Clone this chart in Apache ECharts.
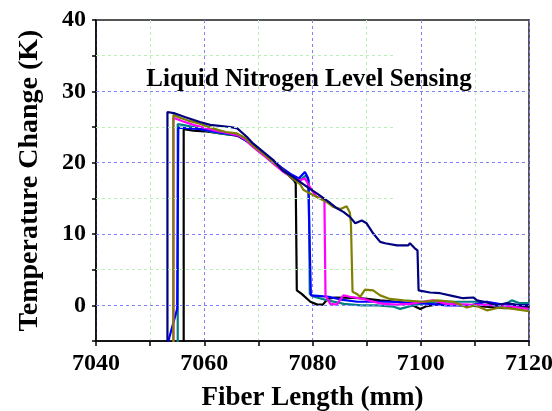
<!DOCTYPE html>
<html>
<head>
<meta charset="utf-8">
<script src="https://cdn.jsdelivr.net/npm/echarts@6/dist/echarts.min.js"></script>
<style>html,body{margin:0;padding:0;background:#fff}#c{width:552px;height:411px}</style>
</head>
<body>
<div id="c"></div>
<script>
// ---- data (x in mm, y in K) ----
const xTicks = [7040, 7060, 7080, 7100, 7120];
const yTicks = [0, 10, 20, 30, 40];
const majorYGrid = [0, 10, 20, 30];
const minorYGrid = [5, 15, 25, 35];
const minorYGridEnd = 7095;

const blackCurve = [[7056.2,-8],[7056.2,24.7],[7058,24.5],[7060,24.4],[7062,24.2],[7064,24.0],[7066,23.8],[7068,23.0],[7069.8,21.9],[7071.5,20.8],[7073.3,19.7],[7075.2,18.5],[7076.6,17.5],[7076.9,17.1],[7077.1,2.1],[7078.0,1.6],[7079.6,0.5],[7080.9,0.1],[7081.9,0.1],[7082.8,0.9],[7084.2,1.1],[7088.8,1.0],[7092.5,0.7],[7095.6,0.5],[7098.0,0.2],[7099.9,-0.5],[7101.1,-0.1],[7103.6,0.2],[7108,0.0],[7112,-0.2],[7115.5,-0.4],[7120,-0.2]];
const tealCurve = [[7055.1,-8],[7055.1,25.4],[7056,25.3],[7058,25.0],[7060,24.6],[7062,24.2],[7064,24.0],[7066,23.9],[7067.5,23.3],[7069,22.3],[7071,21.1],[7072.7,20.0],[7074.8,18.8],[7076.5,18.0],[7077.7,17.6],[7078.8,18.2],[7079.3,17.5],[7079.5,1.6],[7080.3,1.2],[7082.8,0.7],[7085.8,0.2],[7089,0.0],[7092,0.0],[7095,-0.2],[7096.2,-0.5],[7098.6,0.0],[7099.9,0.2],[7103,0.5],[7106,0.5],[7112.2,0.5],[7114.6,-0.3],[7116.8,0.7],[7118.3,0.3],[7120,0.3]];
const blueCurve = [[7053.0,-6],[7055.0,-0.5],[7055.2,24.9],[7057.4,24.8],[7059.2,24.7],[7061,24.5],[7063,24.2],[7065,24.0],[7066.5,23.7],[7068.2,22.8],[7070.3,21.6],[7072.3,20.5],[7074.3,19.3],[7076.2,18.3],[7077.5,17.8],[7078.6,18.7],[7079.2,17.8],[7079.7,1.4],[7081.5,1.3],[7083,1.2],[7085.3,0.8],[7088.3,0.5],[7094.3,0.5],[7099.9,0.3],[7104.8,0.0],[7109.1,0.0],[7112.2,0.5],[7115.2,0.1],[7120,0.0]];
const magentaCurve = [[7054.3,-8],[7054.3,26.3],[7056,25.8],[7058,25.3],[7060,24.9],[7062,24.5],[7064,24.2],[7066,23.9],[7067.5,23.3],[7069,22.2],[7071,21.0],[7072.7,19.9],[7074.8,18.6],[7076.5,17.8],[7077.7,17.5],[7078.6,17.8],[7079.9,16.1],[7080.8,15.2],[7081.7,15.0],[7082.2,14.9],[7082.4,1.4],[7083.3,0.2],[7084.5,0.1],[7085.7,1.4],[7086.9,1.2],[7089.4,0.9],[7091.2,0.5],[7093.1,0.2],[7095.6,0.1],[7098,0.2],[7101.1,0.6],[7102.3,0.7],[7104.8,0.2],[7109.1,0.1],[7115.2,0.0],[7119.9,-0.5]];
const oliveCurve = [[7054.3,-8],[7054.3,26.7],[7055.5,26.3],[7057,25.9],[7059,25.5],[7060.5,25.1],[7062.5,24.6],[7064,24.3],[7066,24.1],[7067.5,23.5],[7069,22.4],[7071,21.2],[7072.5,20.2],[7074.5,19.0],[7076,18.0],[7077.7,17.0],[7078.3,16.2],[7079.5,15.7],[7080.8,15.2],[7082.6,14.5],[7083.8,13.8],[7085.2,13.5],[7086.3,13.9],[7086.9,13.0],[7087.1,11.5],[7087.4,1.9],[7088.2,1.6],[7088.8,1.2],[7089.7,2.2],[7091.2,2.1],[7092.5,1.4],[7094.3,0.9],[7096.8,0.7],[7100.5,0.5],[7103,0.7],[7106,0.5],[7108.5,-0.3],[7110,0.0],[7112.2,-0.7],[7114.6,-0.3],[7117.1,-0.5],[7120,-0.8]];
const navyCurve = [[7053.2,-8],[7053.2,27.1],[7054.6,26.9],[7056.4,26.4],[7059.2,25.7],[7061.1,25.3],[7064.8,25.0],[7066.1,24.8],[7067.9,23.6],[7069.0,22.7],[7070.9,21.5],[7072.7,20.4],[7074.5,18.9],[7076.4,18.0],[7077.7,17.3],[7079.0,16.6],[7081.0,15.6],[7083.0,14.5],[7084.5,13.6],[7085.7,13.1],[7086.9,12.4],[7087.9,11.5],[7089.1,11.9],[7090.0,11.5],[7091.2,10.1],[7092.5,8.9],[7093.4,8.7],[7095.6,8.4],[7097.7,8.4],[7098.0,8.7],[7098.9,8.0],[7099.4,7.7],[7099.6,2.1],[7101.7,1.8],[7103.6,1.7],[7106.0,1.3],[7107.8,1.0],[7109.7,1.1],[7110.4,0.7],[7112.2,0.4],[7114.1,0.0],[7115.9,0.3],[7118.3,0.0],[7120,0.0]];

const curves = [
  {data: blackCurve, color: '#000000'},
  {data: tealCurve, color: '#008080'},
  {data: blueCurve, color: '#0000ff'},
  {data: magentaCurve, color: '#ff00ff'},
  {data: oliveCurve, color: '#808000'},
  {data: navyCurve, color: '#000080'}
];

const FONT = '"Liberation Serif","Times New Roman",serif';
const chart = echarts.init(document.getElementById('c'), null, {renderer: 'canvas'});

const gridLines = [];
majorYGrid.forEach(v => gridLines.push({yAxis: v, lineStyle: {color: '#8080ff', type: [3, 3], width: 1}}));
minorYGrid.forEach(v => gridLines.push([{coord: [7040, v], lineStyle: {color: '#b8f0b8', type: [3, 3], width: 1}}, {coord: [minorYGridEnd, v]}]));

const series = [{
  type: 'line', data: [], z: 1, silent: true,
  markLine: {silent: true, symbol: ['none', 'none'], label: {show: false}, animation: false, data: gridLines}
}];
curves.forEach(c => series.push({
  type: 'line', data: c.data, showSymbol: false, symbol: 'none', clip: true, z: 3,
  lineStyle: {color: c.color, width: 2.2}, itemStyle: {color: c.color}
}));

chart.setOption({
  animation: false,
  backgroundColor: '#ffffff',
  title: {
    text: 'Liquid Nitrogen Level Sensing', left: 304, top: 62, textAlign: 'center',
    textStyle: {fontFamily: FONT, fontWeight: 'bold', fontSize: 25, color: '#000'}
  },
  grid: {left: 96, right: 23, top: 20, bottom: 70, containLabel: false, outerBoundsMode: 'none',
    show: true, borderColor: '#555', borderWidth: 2, backgroundColor: 'transparent'},
  xAxis: {
    type: 'value', min: 7040, max: 7120, interval: 20,
    name: 'Fiber Length (mm)', nameLocation: 'middle', nameGap: 44,
    nameTextStyle: {fontFamily: FONT, fontWeight: 'bold', fontSize: 27, color: '#000'},
    axisLine: {show: true, onZero: false, lineStyle: {color: '#000', width: 1.5}},
    axisTick: {show: true, inside: false, length: 5, lineStyle: {color: '#000', width: 1.5}},
    minorTick: {show: true, splitNumber: 2, length: 5, lineStyle: {color: '#000', width: 1.5}},
    axisLabel: {margin: 11, fontFamily: FONT, fontWeight: 'bold', fontSize: 24, color: '#000',
      formatter: v => xTicks.includes(v) ? String(v) : ''},
    splitLine: {show: true, lineStyle: {color: '#8080ff', type: [3, 3], width: 1}},
    minorSplitLine: {show: true, lineStyle: {color: '#b8f0b8', type: [3, 3], width: 1}}
  },
  yAxis: {
    type: 'value', min: -5, max: 40, interval: 5,
    name: 'Temperature Change (K)', nameLocation: 'middle', nameGap: 52,
    nameTextStyle: {fontFamily: FONT, fontWeight: 'bold', fontSize: 28, color: '#000'},
    axisLine: {show: true, onZero: false, lineStyle: {color: '#000', width: 1.5}},
    axisTick: {show: true, inside: false, length: 4, lineStyle: {color: '#000', width: 1.5}},
    axisLabel: {margin: 10, fontFamily: FONT, fontWeight: 'bold', fontSize: 24, color: '#000',
      formatter: v => yTicks.includes(v) ? String(v) : ''},
    splitLine: {show: false}
  },
  series: series
});
</script>
</body>
</html>
